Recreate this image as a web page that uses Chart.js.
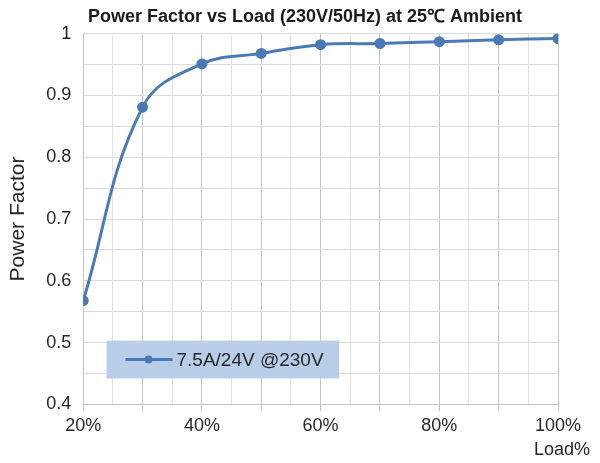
<!DOCTYPE html>
<html>
<head>
<meta charset="utf-8">
<style>
  html, body { margin: 0; padding: 0; background: #fff; }
  #wrap { width: 600px; height: 463px; }
</style>
<script src="https://cdn.jsdelivr.net/npm/chart.js"></script>
</head>
<body>
<div id="wrap"><canvas id="pfChart" width="600" height="463"></canvas></div>
<script>
// data
var loadPct = [20, 30, 40, 50, 60, 70, 80, 90, 100];
var powerFactor = [0.568, 0.881, 0.951, 0.968, 0.982, 0.984, 0.987, 0.990, 0.992];
var seriesLabel = '7.5A/24V @230V';
var chartTitle = 'Power Factor vs Load (230V/50Hz) at 25℃ Ambient';
var xTickLabels = [20, 40, 60, 80, 100];
var yTickLabels = [0.4, 0.5, 0.6, 0.7, 0.8, 0.9, 1];

var lineColor = '#4a7ab5';
var fontFam = '"Liberation Sans", Arial, sans-serif';

// legend box sits inside the plot area, bottom left
var insideLegend = {
  id: 'insideLegend',
  afterDraw: function (chart) {
    var ctx = chart.ctx, a = chart.chartArea;
    var w = a.right - a.left, h = a.bottom - a.top;
    var x = a.left + w * 0.049, y = a.top + h * 0.828;
    var bw = w * 0.49, bh = h * 0.102;
    ctx.save();
    ctx.fillStyle = '#b7cde8';
    ctx.fillRect(x, y, bw, bh);
    var cy = y + bh / 2;
    ctx.strokeStyle = lineColor;
    ctx.lineWidth = 3;
    ctx.beginPath();
    ctx.moveTo(x + 19, cy);
    ctx.lineTo(x + 66, cy);
    ctx.stroke();
    ctx.fillStyle = lineColor;
    ctx.beginPath();
    ctx.arc(x + 42, cy, 4, 0, Math.PI * 2);
    ctx.fill();
    ctx.fillStyle = '#262626';
    ctx.font = '19px ' + fontFam;
    ctx.textBaseline = 'middle';
    ctx.fillText(chart.data.datasets[0].label, x + 70, cy + 1);
    ctx.restore();
  }
};

// "Load%" past the right end of the x axis, and the title centred on the page
var extraText = {
  id: 'extraText',
  afterDraw: function (chart) {
    var ctx = chart.ctx, a = chart.chartArea;
    ctx.save();
    ctx.fillStyle = '#262626';
    ctx.font = '18px ' + fontFam;
    ctx.textAlign = 'right';
    ctx.textBaseline = 'middle';
    ctx.fillText('Load%', a.right + 32, a.bottom + 46);
    var t = chart.titleBlock;
    ctx.fillStyle = '#1a1a1a';
    ctx.font = 'bold 18px ' + fontFam;
    ctx.textAlign = 'center';
    ctx.fillText(chartTitle, chart.width / 2 + 5, (t.top + t.bottom) / 2 - 1);
    ctx.restore();
  }
};

function isOn(v, step) {
  var r = v / step;
  return Math.abs(r - Math.round(r)) < 1e-6;
}

new Chart(document.getElementById('pfChart').getContext('2d'), {
  type: 'line',
  data: {
    datasets: [{
      label: seriesLabel,
      data: loadPct.map(function (x, i) { return { x: x, y: powerFactor[i] }; }),
      borderColor: lineColor,
      backgroundColor: lineColor,
      borderWidth: 3,
      pointRadius: 4,
      pointHoverRadius: 4,
      tension: 0.4,
      fill: false
    }]
  },
  plugins: [insideLegend, extraText],
  options: {
    responsive: false,
    animation: false,
    layout: { padding: { left: 6, right: 42, top: 3, bottom: 22 } },
    plugins: {
      legend: { display: false },
      tooltip: { enabled: false },
      title: {
        // reserves the space; the text itself is drawn by extraText
        display: true,
        text: chartTitle,
        color: 'rgba(0,0,0,0)',
        font: { family: fontFam, size: 18, weight: 'bold' },
        padding: { top: 2, bottom: 7 }
      }
    },
    scales: {
      x: {
        type: 'linear',
        min: 20,
        max: 100,
        ticks: {
          stepSize: 5,
          autoSkip: false,
          maxRotation: 0,
          color: '#262626',
          font: { family: fontFam, size: 18 },
          padding: 4,
          callback: function (v) {
            return xTickLabels.indexOf(Math.round(v)) >= 0 ? v + '%' : '';
          }
        },
        grid: {
          color: function (c) { return isOn(c.tick.value, 10) ? '#c4c4c4' : '#e2e2e2'; },
          tickColor: function (c) { return isOn(c.tick.value, 10) ? '#c4c4c4' : 'rgba(0,0,0,0)'; },
          tickLength: 7,
          lineWidth: 1
        },
        border: { color: '#c4c4c4' }
      },
      y: {
        min: 0.4,
        max: 1,
        ticks: {
          stepSize: 0.05,
          autoSkip: false,
          color: '#262626',
          font: { family: fontFam, size: 18 },
          padding: 12,
          callback: function (v) {
            var r = Math.round(v * 10) / 10;
            return (isOn(v, 0.1) && yTickLabels.indexOf(r) >= 0) ? String(r) : '';
          }
        },
        grid: {
          color: '#dcdcdc',
          drawTicks: false,
          lineWidth: 1
        },
        border: { color: '#c4c4c4' },
        title: {
          display: true,
          text: 'Power Factor',
          color: '#262626',
          font: { family: fontFam, size: 21 },
          padding: { top: 0, bottom: 3 }
        }
      }
    }
  }
});
</script>
</body>
</html>
